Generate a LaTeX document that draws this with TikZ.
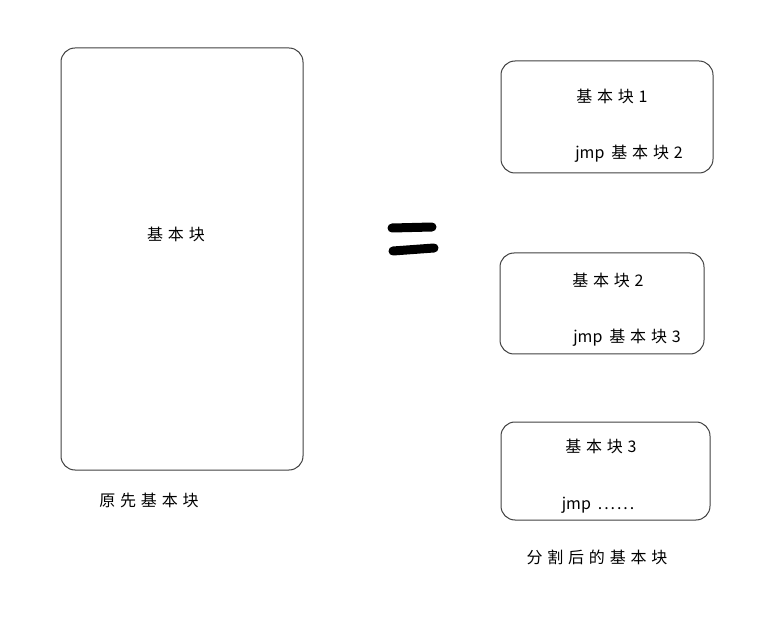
\documentclass[tikz,border=0pt]{standalone}
\usepackage{fontspec}
\setmainfont{Noto Sans CJK SC}
\newcommand{\jmpw}{{\addfontfeature{LetterSpace=0}jmp}\hspace{7pt}}
\begin{document}
\begin{tikzpicture}[x=1pt,y=-1pt,
  blk/.style={draw=black!75,line width=1pt,rounded corners=14pt},
  lbl/.style={font=\fontsize{16}{18}\selectfont\addfontfeature{LetterSpace=30},text=black,inner sep=0pt},
  eqbar/.style={line width=9pt,line cap=round}]
\useasboundingbox (0,0) rectangle (772,631);
\draw[blk] (61,48) rectangle (303,470);
\node[lbl] (big) at (176,234) {基本块};
\node[lbl] (bigcap) at (149,500) {原先基本块};
\draw[blk] (501,61) rectangle (713,173);
\node[lbl] (b1a) at (612,96) {基本块1};
\node[lbl] (b1b) at (629,154) {\jmpw 基本块2};
\draw[blk] (500,253) rectangle (704,354);
\node[lbl] (b2a) at (608,280) {基本块2};
\node[lbl] (b2b) at (627,338) {\jmpw 基本块3};
\draw[blk] (501,422) rectangle (710,520);
\node[lbl] (b3a) at (601,446) {基本块3};
\node[lbl] (b3b) at (598,505) {\jmpw{\addfontfeature{LetterSpace=12}......}};
\node[lbl] (cap) at (597,557) {分割后的基本块};
\draw[eqbar] (392,228) -- (432,227);
\draw[eqbar] (393,251) -- (434,248);
\end{tikzpicture}
\end{document}
